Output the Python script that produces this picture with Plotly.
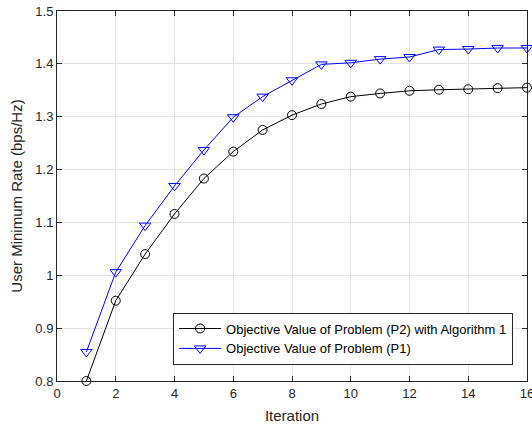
import plotly.graph_objects as go

iterations = list(range(1, 17))
p2_alg1 = [0.800, 0.952, 1.040, 1.116, 1.183, 1.234, 1.275, 1.303,
           1.324, 1.338, 1.344, 1.349, 1.351, 1.352, 1.354, 1.355]
p1 = [0.855, 1.006, 1.094, 1.169, 1.237, 1.299, 1.338, 1.369,
      1.399, 1.402, 1.409, 1.413, 1.427, 1.428, 1.430, 1.430]
x_ticks = [0, 2, 4, 6, 8, 10, 12, 14, 16]
y_ticks = [0.8, 0.9, 1.0, 1.1, 1.2, 1.3, 1.4, 1.5]
y_tick_text = ["0.8", "0.9", "1", "1.1", "1.2", "1.3", "1.4", "1.5"]

FONT = "Liberation Sans, Arial"

fig = go.Figure()
fig.add_trace(go.Scatter(
    x=iterations, y=p2_alg1, mode="lines+markers",
    name="Objective Value of Problem (P2) with Algorithm 1",
    line=dict(color="black", width=1),
    marker=dict(symbol="circle-open", size=9, color="black", line=dict(width=1)),
    cliponaxis=False,
))
fig.add_trace(go.Scatter(
    x=iterations, y=p1, mode="lines+markers",
    name="Objective Value of Problem (P1)",
    line=dict(color="#0000ff", width=1),
    marker=dict(symbol="triangle-down-open", size=10, color="#0000ff", line=dict(width=1)),
    cliponaxis=False,
))

axis_common = dict(
    showline=True, linecolor="#262626", linewidth=1, mirror="ticks",
    ticks="inside", ticklen=5, tickcolor="#262626",
    showgrid=True, gridcolor="#e3e3e3", gridwidth=1,
    zeroline=False, automargin=False, ticklabeloverflow="allow",
    tickfont=dict(family=FONT, size=13, color="#262626"),
    title_font=dict(family=FONT, size=15, color="#262626"),
)

fig.update_layout(
    width=532, height=425,
    margin=dict(l=57, r=5, t=11, b=44),
    paper_bgcolor="white", plot_bgcolor="white",
    xaxis=dict(range=[0, 16], tickvals=x_ticks, title=dict(text="Iteration", standoff=10), **axis_common),
    yaxis=dict(range=[0.8, 1.5], tickvals=y_ticks, ticktext=y_tick_text,
               title=dict(text="User Minimum Rate (bps/Hz)", standoff=9), **axis_common),
    legend=dict(
        x=0.247, y=0.185, xanchor="left", yanchor="top",
        bgcolor="white", bordercolor="#262626", borderwidth=1,
        font=dict(family=FONT, size=13, color="black"),
        tracegroupgap=0, itemwidth=42,
    ),
    showlegend=True,
)

fig.write_html(
    "out.html",
    config={"displayModeBar": False},
    post_script="document.body.style.margin='0';document.body.style.overflow='hidden';",
)
